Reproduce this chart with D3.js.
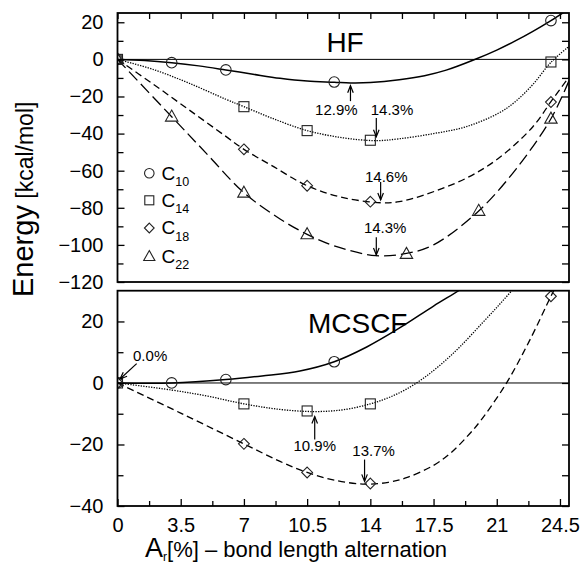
<!DOCTYPE html>
<html><head><meta charset="utf-8">
<script src="https://cdn.jsdelivr.net/npm/d3@7"></script>
<style>
body{margin:0;background:#fff}
svg{display:block}
text{font-family:"Liberation Sans",Arial,Helvetica,sans-serif;fill:#000}
</style>
</head><body>
<svg id="c" width="584" height="567"></svg>
<script>
// ---------- data ----------
const xTickValues = [0, 3.5, 7, 10.5, 14, 17.5, 21, 24.5];
const xTickLabels = ["0", "3.5", "7", "10.5", "14", "17.5", "21", "24.5"];
const xMinorTicks = [1.75, 5.25, 8.75, 12.25, 15.75, 19.25, 22.75];
const hfYTicks = [20, 0, -20, -40, -60, -80, -100, -120];
const hfYMinor = [10, -10, -30, -50, -70, -90, -110];
const mcYTicks = [20, 0, -20, -40];
const mcYMinor = [10, -10, -30];
const seriesNames = ["C10", "C14", "C18", "C22"];
const seriesSubs = ["10", "14", "18", "22"];
const seriesSymbols = ["circle", "square", "diamond", "triangle"];

// HF computed points
const hfC10X = [0, 3, 6, 12, 24];
const hfC10Y = [0, -1.8, -5.7, -12.2, 20.9];
const hfC14X = [0, 7, 10.5, 14, 24];
const hfC14Y = [0, -25.5, -38.4, -43.6, -1.4];
const hfC18X = [0, 7, 10.5, 14, 24];
const hfC18Y = [0, -48.5, -68.1, -76.7, -23.0];
const hfC22X = [0, 3, 7, 10.5, 16, 20, 24];
const hfC22Y = [0, -30.9, -71.9, -94.3, -104.9, -81.7, -32.0];
// HF fitted curves
const hfC10CurveX = [0, 1.5, 3, 4.5, 6, 7.5, 9, 10.5, 12, 12.9, 14, 15.6, 17, 18.2, 19.85, 21, 22, 23, 24, 25];
const hfC10CurveY = [0, -0.6, -1.8, -3.5, -5.7, -8.0, -10.2, -11.7, -12.3, -12.7, -12.5, -11.0, -8.8, -5.8, 0.2, 5.0, 9.8, 15.1, 20.9, 27.2];
const hfC14CurveX = [0, 2, 4, 6, 7, 8.5, 10.5, 12.5, 14.3, 15.6, 17.5, 19.3, 21.1, 22, 23, 24, 25];
const hfC14CurveY = [0, -5.5, -13, -21.5, -25.5, -31.5, -38.4, -42.3, -43.8, -42.8, -40.0, -36.3, -29.0, -23.0, -13.5, -1.6, 7];
const hfC18CurveX = [0, 2, 4, 6, 7, 8.5, 10.5, 12.5, 14.6, 15.6, 17, 19.3, 21.1, 23, 24, 25];
const hfC18CurveY = [0, -13.5, -27.5, -41.5, -48.5, -57, -68.1, -74.5, -77.3, -76.7, -73, -64.1, -53.3, -36.3, -22.8, -9.5];
const hfC22CurveX = [0, 3, 5, 7, 9, 10.5, 12, 14.3, 16, 17.5, 20, 22.1, 24, 25];
const hfC22CurveY = [0, -30.9, -51.5, -71.9, -86, -94.3, -100.5, -105.8, -104.6, -100, -81.7, -58.7, -32.0, -11.5];

// MCSCF computed points
const mcC10X = [0, 3, 6, 12];
const mcC10Y = [0, 0, 1.1, 6.9];
const mcC14X = [0, 7, 10.5, 14];
const mcC14Y = [0, -6.8, -9.1, -6.8];
const mcC18X = [0, 7, 10.5, 14, 24];
const mcC18Y = [0, -19.8, -29.1, -32.7, 28.2];
// MCSCF fitted curves
const mcC10CurveX = [0, 3, 6, 8, 10.1, 12, 13.8, 15.6, 17.5, 19.1, 19.6];
const mcC10CurveY = [0, 0, 1.1, 2.3, 3.9, 6.9, 11.7, 17.8, 25.0, 30.8, 33];
const mcC14CurveX = [0, 3, 5, 7, 9, 10.9, 12.5, 14, 15, 16, 17, 18, 19, 20.2, 21.1, 21.9, 22.4];
const mcC14CurveY = [0, -2.3, -4.3, -6.8, -8.6, -9.3, -8.7, -6.8, -4.8, -2.0, 1.8, 6.5, 12.0, 19.5, 25.2, 30.5, 34];
const mcC18CurveX = [0, 3.5, 7, 9, 10.5, 12, 13.7, 15, 16, 17.5, 18.5, 19.5, 20.1, 21.5, 22.8, 24, 24.2];
const mcC18CurveY = [0, -9.8, -19.8, -25.5, -29.1, -31.6, -32.9, -32.3, -30.8, -26.8, -22.5, -16.5, -12.3, -0.4, 13.6, 28.2, 30.5];

// annotation labels (minimum positions)
const hfAnnoLabels = ["12.9%", "14.3%", "14.6%", "14.3%"];
const mcAnnoLabels = ["0.0%", "10.9%", "13.7%"];

// ---------- layout ----------
const svg = d3.select("#c");
const L = 117.5, R = 569;
const x = d3.scaleLinear().domain([0, 25]).range([L, R]);
const yT = d3.scaleLinear().domain([-120, 25]).range([282, 13]);
const yB = d3.scaleLinear().domain([-40, 30]).range([506, 290.7]);

const styles = {
  C10: {dash: null, w: 1.5},
  C14: {dash: "1.3,1.3", w: 1.3},
  C18: {dash: "7,4", w: 1.3},
  C22: {dash: "12,5", w: 1.3}
};

const defs = svg.append("defs");
defs.append("marker").attr("id", "ah").attr("viewBox", "-10 -5 12 10")
  .attr("markerWidth", 12).attr("markerHeight", 10).attr("markerUnits", "userSpaceOnUse")
  .attr("refX", 0).attr("refY", 0).attr("orient", "auto")
  .append("path").attr("d", "M-7,-2.8 L0,0 L-7,2.8").attr("fill", "none")
  .attr("stroke", "#000").attr("stroke-width", 1.2);

function drawSymbol(g, type, cx, cy, k) {
  const st = "#222", sw = 1.1;
  if (type === "circle") {
    g.append("circle").attr("cx", cx).attr("cy", cy).attr("r", 5.3 * k)
      .attr("fill", "none").attr("stroke", st).attr("stroke-width", sw);
  } else if (type === "square") {
    const h = 5 * k;
    g.append("rect").attr("x", cx - h).attr("y", cy - h).attr("width", 2 * h).attr("height", 2 * h)
      .attr("fill", "none").attr("stroke", st).attr("stroke-width", sw);
  } else if (type === "diamond") {
    const h = 5.4 * k;
    g.append("path").attr("d", `M${cx},${cy - h}L${cx + h},${cy}L${cx},${cy + h}L${cx - h},${cy}Z`)
      .attr("fill", "none").attr("stroke", st).attr("stroke-width", sw);
  } else {
    const w = 6.2 * k, t = 6.6 * k, b = 4.4 * k;
    g.append("path").attr("d", `M${cx},${cy - t}L${cx + w},${cy + b}L${cx - w},${cy + b}Z`)
      .attr("fill", "none").attr("stroke", st).attr("stroke-width", sw);
  }
}

function panel(y, id, yTicks, yMinor, curves, points, showBottom) {
  const [y0, y1] = [y.range()[1], y.range()[0]];
  const g = svg.append("g");
  defs.append("clipPath").attr("id", id).append("rect")
    .attr("x", L).attr("y", y0).attr("width", R - L).attr("height", y1 - y0);

  g.append("line").attr("x1", L).attr("x2", R).attr("y1", y(0)).attr("y2", y(0))
    .attr("stroke", "#000").attr("stroke-width", 1);

  const cg = g.append("g").attr("clip-path", `url(#${id})`);
  const line = d3.line().x(d => x(d[0])).y(d => y(d[1])).curve(d3.curveCatmullRom.alpha(0.5));
  curves.forEach(c => {
    const st = styles[c.name];
    cg.append("path").attr("d", line(d3.zip(c.xs, c.ys)))
      .attr("fill", "none").attr("stroke", "#000").attr("stroke-width", st.w)
      .attr("stroke-dasharray", st.dash);
  });
  points.forEach(p => {
    p.xs.forEach((xv, i) => drawSymbol(cg, p.sym, x(xv), y(p.ys[i]), 1));
  });

  const ax = g.append("g").attr("class", "ax");
  ax.append("g").attr("transform", `translate(${L},0)`)
    .call(d3.axisLeft(y).tickValues(yTicks).tickSize(-7).tickPadding(14)
      .tickFormat(d => d < 0 ? "\u2212" + Math.abs(d) : d));
  ax.append("g").attr("transform", `translate(${L},0)`)
    .call(d3.axisLeft(y).tickValues(yMinor).tickSize(-6).tickFormat(""));
  ax.append("g").attr("transform", `translate(${R},0)`)
    .call(d3.axisRight(y).tickValues(yTicks.concat(yMinor)).tickSize(-7).tickFormat(""));
  if (showBottom) {
    ax.append("g").attr("transform", `translate(0,${y1})`)
      .call(d3.axisBottom(x).tickValues(xTickValues).tickSize(-7).tickPadding(12)
        .tickFormat((d, i) => xTickLabels[i]));
    ax.append("g").attr("transform", `translate(0,${y1})`)
      .call(d3.axisBottom(x).tickValues(xMinorTicks).tickSize(-5).tickFormat(""));
  } else {
    ax.append("g").attr("transform", `translate(0,${y0})`)
      .call(d3.axisTop(x).tickValues(xTickValues.concat(xMinorTicks)).tickSize(-6).tickFormat(""));
  }
  ax.selectAll(".domain").remove();
  ax.selectAll(".tick line").attr("stroke", "#000").attr("stroke-width", 1.3);
  ax.selectAll(".tick text").attr("font-size", 20)
    .attr("font-family", '"Liberation Sans",Arial,Helvetica,sans-serif').attr("fill", "#000");

  g.append("rect").attr("x", L).attr("y", y0).attr("width", R - L).attr("height", y1 - y0)
    .attr("fill", "none").attr("stroke", "#000").attr("stroke-width", 1.8);
  return g;
}

function arrow(g, x1, y1, x2, y2) {
  g.append("line").attr("x1", x1).attr("y1", y1).attr("x2", x2).attr("y2", y2)
    .attr("stroke", "#000").attr("stroke-width", 1.2).attr("marker-end", "url(#ah)");
}

// ---------- top panel: HF ----------
const gT = panel(yT, "clipT", hfYTicks, hfYMinor,
  [{name: "C10", xs: hfC10CurveX, ys: hfC10CurveY},
   {name: "C14", xs: hfC14CurveX, ys: hfC14CurveY},
   {name: "C18", xs: hfC18CurveX, ys: hfC18CurveY},
   {name: "C22", xs: hfC22CurveX, ys: hfC22CurveY}],
  [{sym: "circle", xs: hfC10X, ys: hfC10Y},
   {sym: "square", xs: hfC14X, ys: hfC14Y},
   {sym: "diamond", xs: hfC18X, ys: hfC18Y},
   {sym: "triangle", xs: hfC22X, ys: hfC22Y}], false);

gT.append("text").attr("x", x(12.6)).attr("y", yT(4.2)).attr("text-anchor", "middle")
  .attr("font-size", 28).text("HF");

const hfAnno = [
  {ax: 12.9, from: -22.5, to: -14.2, tx: 12.12, ty: -30.0},
  {ax: 14.33, from: -31.6, to: -41.7, tx: 15.2, ty: -30.0},
  {ax: 14.57, from: -66.1, to: -75.8, tx: 14.88, ty: -65.9},
  {ax: 14.33, from: -95.9, to: -105.4, tx: 14.82, ty: -93.6}
];
hfAnno.forEach((a, i) => {
  arrow(gT, x(a.ax), yT(a.from), x(a.ax), yT(a.to));
  gT.append("text").attr("x", x(a.tx)).attr("y", yT(a.ty)).attr("text-anchor", "middle")
    .attr("font-size", 15).text(hfAnnoLabels[i]);
});

// legend
const lg = svg.append("g");
const legRows = [173.3, 200.3, 228, 256.5];
seriesNames.forEach((n, i) => {
  drawSymbol(lg, seriesSymbols[i], 149.3, legRows[i], 0.9);
  const t = lg.append("text").attr("x", 161.5).attr("y", legRows[i] + 6.3);
  t.append("tspan").attr("font-size", 19).text("C");
  t.append("tspan").attr("font-size", 12.5).attr("dy", 6.5).text(seriesSubs[i]);
});

// ---------- bottom panel: MCSCF ----------
const gB = panel(yB, "clipB", mcYTicks, mcYMinor,
  [{name: "C10", xs: mcC10CurveX, ys: mcC10CurveY},
   {name: "C14", xs: mcC14CurveX, ys: mcC14CurveY},
   {name: "C18", xs: mcC18CurveX, ys: mcC18CurveY}],
  [{sym: "circle", xs: mcC10X, ys: mcC10Y},
   {sym: "square", xs: mcC14X, ys: mcC14Y},
   {sym: "diamond", xs: mcC18X, ys: mcC18Y}], true);

gB.append("text").attr("x", x(13.3)).attr("y", yB(16.4)).attr("text-anchor", "middle")
  .attr("font-size", 28).text("MCSCF");

const mcAnno = [
  {x1: 1.06, y1: 6.3, x2: 0.14, y2: 1.3, tx: 0.86, ty: 7.0, anchor: "start"},
  {x1: 10.92, y1: -18.4, x2: 10.92, y2: -10.9, tx: 10.92, ty: -22.2, anchor: "middle"},
  {x1: 13.68, y1: -24.9, x2: 13.68, y2: -32.0, tx: 14.18, ty: -23.9, anchor: "middle"}
];
mcAnno.forEach((a, i) => {
  arrow(gB, x(a.x1), yB(a.y1), x(a.x2), yB(a.y2));
  gB.append("text").attr("x", x(a.tx)).attr("y", yB(a.ty)).attr("text-anchor", a.anchor)
    .attr("font-size", 15).text(mcAnnoLabels[i]);
});

// ---------- axis titles ----------
const yl = svg.append("text").attr("transform", "translate(33,297) rotate(-90)");
yl.append("tspan").attr("font-size", 29).text("Energy");
yl.append("tspan").attr("font-size", 23).text(" [kcal/mol]");

const xl = svg.append("text").attr("x", 145).attr("y", 556.7);
xl.append("tspan").attr("font-size", 27).text("A");
xl.append("tspan").attr("font-size", 12).attr("dy", 4).text("r");
xl.append("tspan").attr("font-size", 22).attr("dy", -4).text("[%] \u2013 bond length alternation");
</script>
</body></html>
